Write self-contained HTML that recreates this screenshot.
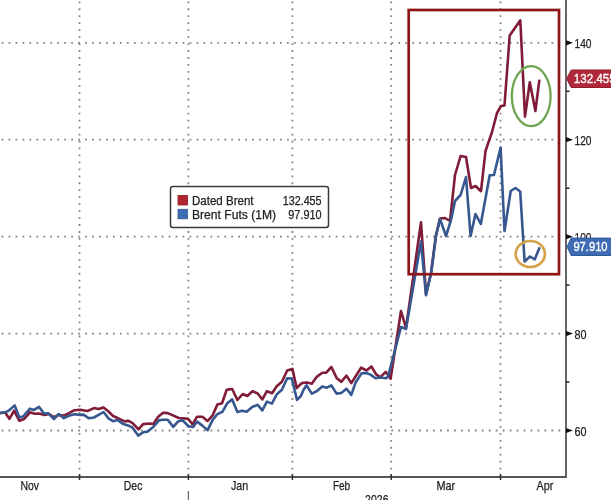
<!DOCTYPE html>
<html><head><meta charset="utf-8"><style>
html,body{margin:0;padding:0;background:#fff;}
body{width:611px;height:500px;overflow:hidden;}
svg{display:block;}
#w{width:611px;height:500px;will-change:transform;}
.g{stroke:#858585;stroke-width:1.8;stroke-dasharray:1.8 5.16;stroke-dashoffset:-1.6;}
.t{font-family:"Liberation Sans",sans-serif;font-size:12.8px;fill:#222;stroke:#222;stroke-width:0.25px;}
</style></head><body><div id="w">
<svg width="611" height="500" viewBox="0 0 611 500">
<rect width="611" height="500" fill="#fff"/>
<line x1="0" y1="430.5" x2="566" y2="430.5" class="g"/><line x1="0" y1="333.6" x2="566" y2="333.6" class="g"/><line x1="0" y1="236.7" x2="566" y2="236.7" class="g"/><line x1="0" y1="139.7" x2="566" y2="139.7" class="g"/><line x1="0" y1="42.8" x2="566" y2="42.8" class="g"/>
<line x1="79.5" y1="-0.2" x2="79.5" y2="477" class="g"/><line x1="188.4" y1="-0.2" x2="188.4" y2="477" class="g"/><line x1="292.4" y1="-0.2" x2="292.4" y2="477" class="g"/><line x1="391.2" y1="-0.2" x2="391.2" y2="477" class="g"/><line x1="500.5" y1="-0.2" x2="500.5" y2="477" class="g"/>
<line x1="566" y1="0" x2="566" y2="477.5" stroke="#555" stroke-width="1.8"/>
<line x1="0" y1="477" x2="566.9" y2="477" stroke="#555" stroke-width="2"/>
<line x1="79.5" y1="474" x2="79.5" y2="480" stroke="#333" stroke-width="1.5"/><line x1="188.4" y1="474" x2="188.4" y2="480" stroke="#333" stroke-width="1.5"/><line x1="292.4" y1="474" x2="292.4" y2="480" stroke="#333" stroke-width="1.5"/><line x1="391.2" y1="474" x2="391.2" y2="480" stroke="#333" stroke-width="1.5"/><line x1="500.5" y1="474" x2="500.5" y2="480" stroke="#333" stroke-width="1.5"/>
<path d="M566 427.9 L573 430.5 L566 433.1Z" fill="#111"/><path d="M566 331.0 L573 333.6 L566 336.2Z" fill="#111"/><path d="M566 234.1 L573 236.7 L566 239.3Z" fill="#111"/><path d="M566 137.1 L573 139.7 L566 142.3Z" fill="#111"/><path d="M566 40.2 L573 42.8 L566 45.4Z" fill="#111"/>
<line x1="566" y1="382.0" x2="569.5" y2="382.0" stroke="#222" stroke-width="1.5"/><line x1="566" y1="285.1" x2="569.5" y2="285.1" stroke="#222" stroke-width="1.5"/><line x1="566" y1="188.2" x2="569.5" y2="188.2" stroke="#222" stroke-width="1.5"/><line x1="566" y1="91.3" x2="569.5" y2="91.3" stroke="#222" stroke-width="1.5"/>
<text x="574.5" y="435.6" class="t" style="font-size:12.4px" textLength="12" lengthAdjust="spacingAndGlyphs">60</text><text x="574.5" y="338.7" class="t" style="font-size:12.4px" textLength="12" lengthAdjust="spacingAndGlyphs">80</text><text x="574.5" y="241.8" class="t" style="font-size:12.4px" textLength="17" lengthAdjust="spacingAndGlyphs">100</text><text x="574.5" y="144.8" class="t" style="font-size:12.4px" textLength="17" lengthAdjust="spacingAndGlyphs">120</text><text x="574.5" y="47.9" class="t" style="font-size:12.4px" textLength="17" lengthAdjust="spacingAndGlyphs">140</text>
<text x="20.4" y="489.7" class="t" textLength="18.5" lengthAdjust="spacingAndGlyphs">Nov</text><text x="123.8" y="489.7" class="t" textLength="18.6" lengthAdjust="spacingAndGlyphs">Dec</text><text x="230.9" y="489.7" class="t" textLength="17.3" lengthAdjust="spacingAndGlyphs">Jan</text><text x="332.9" y="489.7" class="t" textLength="17.3" lengthAdjust="spacingAndGlyphs">Feb</text><text x="436.5" y="489.7" class="t" textLength="18.7" lengthAdjust="spacingAndGlyphs">Mar</text><text x="536.6" y="489.7" class="t" textLength="16.8" lengthAdjust="spacingAndGlyphs">Apr</text>
<line x1="188.4" y1="491" x2="188.4" y2="500" stroke="#666" stroke-width="1.2"/>
<text x="365.1" y="503.5" class="t" textLength="23.4" lengthAdjust="spacingAndGlyphs">2026</text>
<polyline points="0.0,413.3 5.2,412.5 9.4,418.8 14.1,410.7 19.4,420.8 24.2,419.0 29.9,412.3 34.7,413.8 39.3,413.6 44.5,414.9 49.0,414.0 54.0,417.0 59.0,415.0 64.2,415.5 69.0,413.2 74.0,410.3 80.2,409.7 87.4,411.0 94.0,408.1 98.6,409.1 103.5,407.4 107.7,410.7 113.0,416.0 118.2,418.3 124.1,421.2 128.7,420.9 132.6,423.1 138.5,429.3 143.1,424.1 149.6,423.5 153.3,424.0 157.9,417.1 163.1,412.8 167.7,413.1 172.9,415.4 178.8,418.0 183.4,418.4 188.0,418.8 192.5,424.3 197.1,416.7 202.4,416.7 207.6,421.0 212.8,415.1 217.4,404.4 222.0,403.3 226.6,390.0 228.3,389.4 232.2,389.0 237.4,400.0 242.7,394.0 247.3,396.0 252.5,391.3 257.7,393.5 262.3,399.5 266.9,391.2 272.1,393.2 276.7,386.3 281.9,381.8 287.2,370.5 292.4,368.9 296.7,388.1 300.9,383.8 303.3,382.7 307.2,382.5 311.8,383.8 317.0,376.6 322.3,372.7 326.2,372.7 331.4,367.0 336.6,377.9 341.2,381.8 346.5,375.7 351.3,383.1 356.3,375.3 361.1,367.7 366.5,370.5 371.4,366.5 376.3,374.6 380.4,377.1 385.7,371.8 390.6,378.7 395.0,350.0 401.0,311.0 406.0,328.0 421.0,222.3 426.0,294.0 431.0,273.0 436.0,235.0 440.0,218.5 445.0,218.0 450.0,221.0 455.0,175.0 460.6,156.0 466.0,157.0 471.0,188.0 475.5,186.0 481.0,191.2 485.5,151.0 492.0,132.0 497.0,113.0 501.0,106.0 504.5,105.5 509.7,35.5 520.3,20.3 525.0,116.6 529.8,82.2 535.4,111.0 539.4,79.6" fill="none" stroke="#801c37" stroke-width="2.6" stroke-linejoin="round"/>
<polyline points="0.0,412.9 5.2,412.3 9.2,410.3 14.7,405.4 19.4,417.5 23.6,416.2 29.9,408.7 34.0,409.9 39.0,406.8 43.9,413.6 48.4,413.3 53.9,419.0 58.7,414.0 63.9,418.2 69.4,415.5 74.6,414.2 80.2,414.9 83.5,414.6 89.1,418.3 94.0,417.5 98.6,414.9 103.5,412.0 108.4,418.3 113.0,421.2 117.5,419.9 123.4,424.1 128.0,425.4 132.6,427.7 138.2,435.6 143.1,432.3 147.6,431.6 153.3,426.9 159.2,420.1 163.1,419.7 167.7,419.7 173.3,426.9 178.1,421.4 182.5,420.3 188.6,426.2 193.2,426.9 197.1,421.6 202.4,425.6 207.6,430.2 212.8,419.7 217.4,414.1 222.4,411.8 227.2,403.3 232.2,399.4 237.4,412.1 242.0,410.8 246.6,411.7 252.5,406.8 257.7,404.9 262.3,410.4 266.9,401.6 271.9,403.6 276.7,394.4 281.9,389.8 287.2,378.3 291.8,378.6 297.0,399.9 300.9,396.0 303.3,390.3 306.5,385.3 311.8,393.6 317.0,391.0 322.3,386.4 326.8,387.7 331.4,385.4 336.6,393.6 341.2,393.0 346.5,388.8 351.3,394.9 355.6,382.5 361.5,373.4 366.5,373.0 370.5,374.6 375.5,378.3 380.4,377.5 386.1,378.3 388.1,376.3 401.0,327.0 406.0,329.0 421.0,241.4 426.0,295.3 431.0,274.0 436.0,236.0 440.0,219.0 446.0,236.0 451.0,220.0 455.0,201.0 460.6,195.0 466.0,177.0 470.6,236.0 475.5,214.0 480.8,224.0 489.7,175.2 494.0,175.0 500.6,147.5 504.5,231.0 510.7,191.0 515.5,188.0 520.2,191.5 524.6,261.5 530.0,256.5 534.8,259.3 539.7,247.2" fill="none" stroke="#36578f" stroke-width="2.6" stroke-linejoin="round"/>
<rect x="408.7" y="10" width="150.3" height="264.2" fill="none" stroke="#8e1515" stroke-width="2.7"/>
<ellipse cx="531.2" cy="96.1" rx="19.4" ry="30" fill="none" stroke="#6fa552" stroke-width="2.3"/>
<ellipse cx="530.3" cy="254" rx="14.6" ry="13" fill="none" stroke="#d5a24a" stroke-width="2.7"/>
<rect x="170.5" y="186.5" width="158" height="41" rx="2.5" fill="#fff" stroke="#3a3a3a" stroke-width="1.5"/>
<rect x="178" y="195.5" width="9.5" height="9.5" fill="#b0262f" stroke="#8a1c24" stroke-width="0.8"/>
<rect x="178" y="209.3" width="9.5" height="9.5" fill="#3f6db5" stroke="#2f5590" stroke-width="0.8"/>
<text x="192" y="204.8" class="t" style="font-size:12.2px" textLength="61.5" lengthAdjust="spacingAndGlyphs">Dated Brent</text>
<text x="192" y="218.8" class="t" style="font-size:12.2px" textLength="84" lengthAdjust="spacingAndGlyphs">Brent Futs (1M)</text>
<text x="282.7" y="204.8" class="t" style="font-size:12.2px" textLength="38.9" lengthAdjust="spacingAndGlyphs">132.455</text>
<text x="288.3" y="218.8" class="t" style="font-size:12.2px" textLength="33.3" lengthAdjust="spacingAndGlyphs">97.910</text>
<path d="M566.6 78.7 L571.2 70 L612 70 L612 87.5 L571.2 87.5 Z" fill="#b0283a" stroke="#8e1e2e" stroke-width="1"/>
<text x="573.8" y="83.4" class="t" style="fill:#fff;stroke:#fff;stroke-width:0.35px" textLength="42" lengthAdjust="spacingAndGlyphs">132.455</text>
<path d="M567 246.8 L571.2 238.1 L612 238.1 L612 255.5 L571.2 255.5 Z" fill="#3e6cb4" stroke="#2f5a9a" stroke-width="1"/>
<text x="573.4" y="251.4" class="t" style="fill:#fff;stroke:#fff;stroke-width:0.35px" textLength="34.2" lengthAdjust="spacingAndGlyphs">97.910</text>
</svg></div>
</body></html>
